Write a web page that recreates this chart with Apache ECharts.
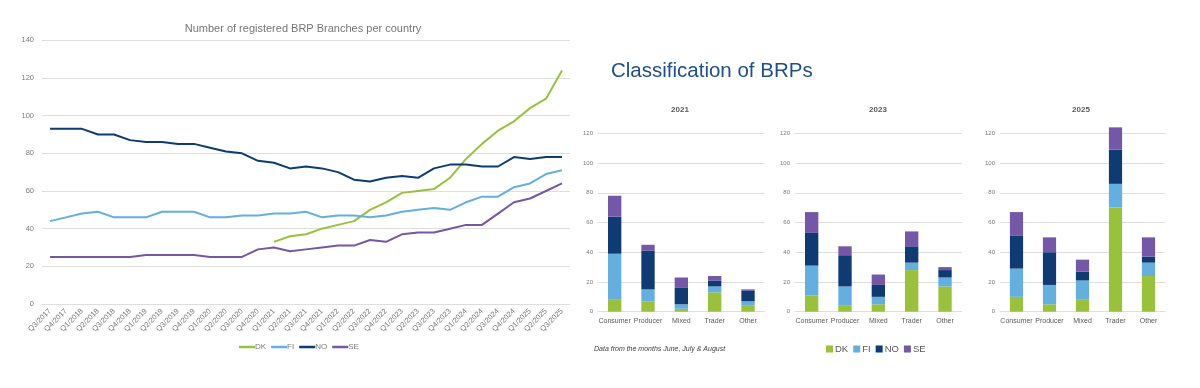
<!DOCTYPE html>
<html><head><meta charset="utf-8">
<script src="https://cdn.jsdelivr.net/npm/echarts@6/dist/echarts.min.js"></script>
<style>html,body{margin:0;padding:0;background:#fff}#c{width:1200px;height:388px}</style>
</head><body><div id="c"></div>
<script>
// ---- Line chart data ----
const quarters = ['Q3/2017','Q4/2017','Q1/2018','Q2/2018','Q3/2018','Q4/2018','Q1/2019','Q2/2019','Q3/2019','Q4/2019','Q1/2020','Q2/2020','Q3/2020','Q4/2020','Q1/2021','Q2/2021','Q3/2021','Q4/2021','Q1/2022','Q2/2022','Q3/2022','Q4/2022','Q1/2023','Q2/2023','Q3/2023','Q4/2023','Q1/2024','Q2/2024','Q3/2024','Q4/2024','Q1/2025','Q2/2025','Q3/2025'];
const lineDK = [null,null,null,null,null,null,null,null,null,null,null,null,null,null,33,36,37,40,42,44,50,54,59,60,61,67,77,85,92,97,104,109,124];
const lineFI = [44,46,48,49,46,46,46,49,49,49,46,46,47,47,48,48,49,46,47,47,46,47,49,50,51,50,54,57,57,62,64,69,71];
const lineNO = [93,93,93,90,90,87,86,86,85,85,83,81,80,76,75,72,73,72,70,66,65,67,68,67,72,74,74,73,73,78,77,78,78];
const lineSE = [25,25,25,25,25,25,26,26,26,26,25,25,25,29,30,28,29,30,31,31,34,33,37,38,38,40,42,42,48,54,56,60,64];
const lineTicks = [0,20,40,60,80,100,120,140];

// ---- Bar chart data ----
const classes = ['Consumer','Producer','Mixed','Trader','Other'];
const years = ['2021','2023','2025'];
const dk2021 = [8,7,2,13,4];
const fi2021 = [31,8,3,4,3];
const no2021 = [25,26,11,4,7];
const se2021 = [14,4,7,3,1];
const dk2023 = [11,4,5,28,17];
const fi2023 = [20,13,5,5,6];
const no2023 = [22,21,8,11,5];
const se2023 = [14,6,7,10,2];
const dk2025 = [10,5,8,70,24];
const fi2025 = [19,13,13,16,9];
const no2025 = [22,22,6,23,4];
const se2025 = [16,10,8,15,13];
const barTicks = [0,20,40,60,80,100,120];

const colors = {DK:'#99c13c', FI:'#62afe0', NO:'#0d3b72', SE:'#7457a7'};
const FONT = '"Liberation Sans", Arial, sans-serif';
const gray = '#595959';
const lightGray = '#7a7a7a';
const gridLine = '#dedede';

const chart = echarts.init(document.getElementById('c'), null, {renderer:'canvas'});

const barGrids = [
  {left:598, top:133.3, width:166.7, height:178.4},
  {left:795, top:133.3, width:166.7, height:178.4},
  {left:1000, top:133.3, width:165, height:178.4}
];
const barData = [
  {DK:dk2021, FI:fi2021, NO:no2021, SE:se2021},
  {DK:dk2023, FI:fi2023, NO:no2023, SE:se2023},
  {DK:dk2025, FI:fi2025, NO:no2025, SE:se2025}
];

const grids = [{left:42, top:40.3, width:528, height:263.7}].concat(barGrids);
const xAxes = [{
  type:'category', gridIndex:0, data:quarters, boundaryGap:true,
  axisLine:{show:true, lineStyle:{color:gridLine}}, axisTick:{show:false},
  axisLabel:{interval:0, rotate:45, fontSize:7.5, color:lightGray, fontFamily:FONT, margin:6}
}];
const yAxes = [{
  type:'value', gridIndex:0, min:lineTicks[0], max:lineTicks[lineTicks.length-1], interval:lineTicks[1]-lineTicks[0],
  axisLine:{show:false}, axisTick:{show:false},
  axisLabel:{fontSize:7.5, color:lightGray, fontFamily:FONT, margin:8},
  splitLine:{lineStyle:{color:gridLine, width:1}}
}];
barGrids.forEach((g,i)=>{
  xAxes.push({type:'category', gridIndex:i+1, data:classes,
    axisLine:{show:true, lineStyle:{color:gridLine}}, axisTick:{show:false},
    axisLabel:{interval:0, fontSize:7, color:gray, fontFamily:FONT, margin:6}});
  yAxes.push({type:'value', gridIndex:i+1, min:barTicks[0], max:barTicks[barTicks.length-1], interval:barTicks[1]-barTicks[0],
    axisLine:{show:false}, axisTick:{show:false},
    axisLabel:{fontSize:6, color:lightGray, fontFamily:FONT, margin:5},
    splitLine:{lineStyle:{color:gridLine, width:1}}});
});

const series = [];
const lines = {DK:lineDK, FI:lineFI, NO:lineNO, SE:lineSE};
Object.keys(lines).forEach(k=>{
  series.push({name:k, type:'line', xAxisIndex:0, yAxisIndex:0, data:lines[k],
    showSymbol:false, symbol:'none', connectNulls:false,
    lineStyle:{color:colors[k], width:2}, itemStyle:{color:colors[k]}});
});
barData.forEach((d,i)=>{
  ['DK','FI','NO','SE'].forEach(k=>{
    series.push({name:k, type:'bar', xAxisIndex:i+1, yAxisIndex:i+1, stack:'s'+i, data:d[k],
      barWidth:'40%', clip:false, itemStyle:{color:colors[k]}});
  });
});

const option = {
  animation:false,
  textStyle:{fontFamily:FONT},
  title:[
    {text:'Number of registered BRP Branches per country', left:298, top:18, textAlign:'center',
      textStyle:{fontSize:11, fontWeight:'normal', color:'#767676', fontFamily:FONT}},
    {text:'Classification of BRPs', left:606, top:56,
      textStyle:{fontSize:20.5, fontWeight:'normal', color:'#1f4e8c', fontFamily:FONT}},
    {text:years[0], left:675, top:101, textAlign:'center', textStyle:{fontSize:8, fontWeight:'bold', color:gray, fontFamily:FONT}},
    {text:years[1], left:873, top:101, textAlign:'center', textStyle:{fontSize:8, fontWeight:'bold', color:gray, fontFamily:FONT}},
    {text:years[2], left:1076, top:101, textAlign:'center', textStyle:{fontSize:8, fontWeight:'bold', color:gray, fontFamily:FONT}},
    {text:'Data from the months June, July & August', left:589, top:341,
      textStyle:{fontSize:7, fontWeight:'normal', fontStyle:'italic', color:'#404040', fontFamily:FONT}}
  ],
  legend:[
    {data:['DK','FI','NO','SE'], left:234, top:338, icon:'rect', itemWidth:16, itemHeight:2.5, itemGap:5,
      textStyle:{fontSize:8, color:lightGray, fontFamily:FONT, padding:[0,0,0,-5]}, selectedMode:false},
    {data:['DK','FI','NO','SE'], left:821, top:339, icon:'rect', itemWidth:7, itemHeight:7, itemGap:5,
      textStyle:{fontSize:9.5, color:gray, fontFamily:FONT, padding:[0,0,0,-3]}, selectedMode:false}
  ],
  grid:grids,
  xAxis:xAxes,
  yAxis:yAxes,
  series:series
};
chart.setOption(option);
</script>
</body></html>
